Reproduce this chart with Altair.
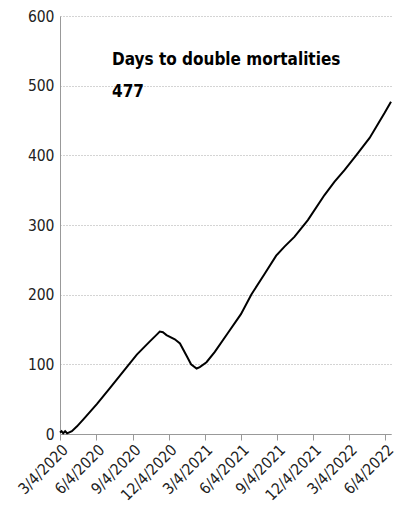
import altair as alt
import pandas as pd

dates = ["2020-03-04", "2020-03-08", "2020-03-12", "2020-03-17", "2020-03-22",
         "2020-04-03", "2020-04-16", "2020-05-02", "2020-06-05", "2020-07-08",
         "2020-08-11", "2020-09-14", "2020-10-17", "2020-11-04", "2020-11-11",
         "2020-11-19", "2020-11-28", "2020-12-19", "2021-01-01", "2021-01-18",
         "2021-01-29", "2021-02-12", "2021-02-20", "2021-03-09", "2021-03-30",
         "2021-05-02", "2021-06-04", "2021-06-30", "2021-08-03", "2021-09-01",
         "2021-09-22", "2021-10-17", "2021-11-20", "2022-01-01", "2022-01-26",
         "2022-02-21", "2022-03-22", "2022-04-25", "2022-06-02", "2022-06-18"]
days_to_double = [2, 4, 1, 4, 1,
                  4, 11, 21, 43, 66,
                  90, 114, 133, 143, 147,
                  146, 142, 136, 130, 112,
                  100, 94, 96, 103, 118,
                  145, 172, 200, 230, 256,
                  269, 283, 307, 343, 362,
                  379, 400, 425, 461, 477]
tick_dates = ["2020-03-04", "2020-06-04", "2020-09-04", "2020-12-04", "2021-03-04",
              "2021-06-04", "2021-09-04", "2021-12-04", "2022-03-04", "2022-06-04"]
y_ticks = [0, 100, 200, 300, 400, 500, 600]
title_text = "Days to double mortalities"
subtitle_text = "477"

df = pd.DataFrame({"date": pd.to_datetime(dates), "value": days_to_double})
tick_ts = [alt.DateTime(year=int(d[:4]), month=int(d[5:7]), date=int(d[8:10])) for d in tick_dates]

FONT = "DejaVu Sans Condensed, Liberation Sans Narrow, Roboto, sans-serif"

chart = alt.Chart(df).mark_line(color="#000000", strokeWidth=2).encode(
    x=alt.X("date:T",
            scale=alt.Scale(domain=[alt.DateTime(year=2020, month=3, date=4),
                                    alt.DateTime(year=2022, month=6, date=18)]),
            axis=alt.Axis(values=tick_ts, format="%-m/%-d/%Y", labelAngle=-45,
                          labelAlign="right", labelBaseline="top", grid=False,
                          labelOverlap=False, labelBound=False, labelFlush=False,
                          domainColor="#999999", tickColor="#999999", tickSize=6,
                          labelFontSize=15.5, labelColor="#222222", labelFont=FONT,
                          labelPadding=2, title=None)),
    y=alt.Y("value:Q", scale=alt.Scale(domain=[0, 600], nice=False),
            axis=alt.Axis(values=y_ticks, grid=True, gridDash=[1, 2],
                          gridColor="#a8a8a8", domainColor="#999999", ticks=False,
                          labelFontSize=15.5, labelColor="#222222", labelFont=FONT,
                          labelPadding=6, title=None)),
).properties(
    width=331, height=418,
    title=alt.TitleParams(text=title_text, subtitle=subtitle_text, anchor="start",
                          frame="group", orient="top", dx=52, dy=96,
                          font=FONT, fontSize=17, fontWeight="bold", color="#000000",
                          subtitleFont=FONT, subtitleFontSize=17, subtitleFontWeight="bold",
                          subtitleColor="#000000", subtitlePadding=15),
    autosize=alt.AutoSizeParams(type="none"),
    padding={"left": 52, "top": 8, "right": 16, "bottom": 80},
).configure_view(stroke=None)

chart.save("out.html", embed_options={"renderer": "svg", "actions": False})
